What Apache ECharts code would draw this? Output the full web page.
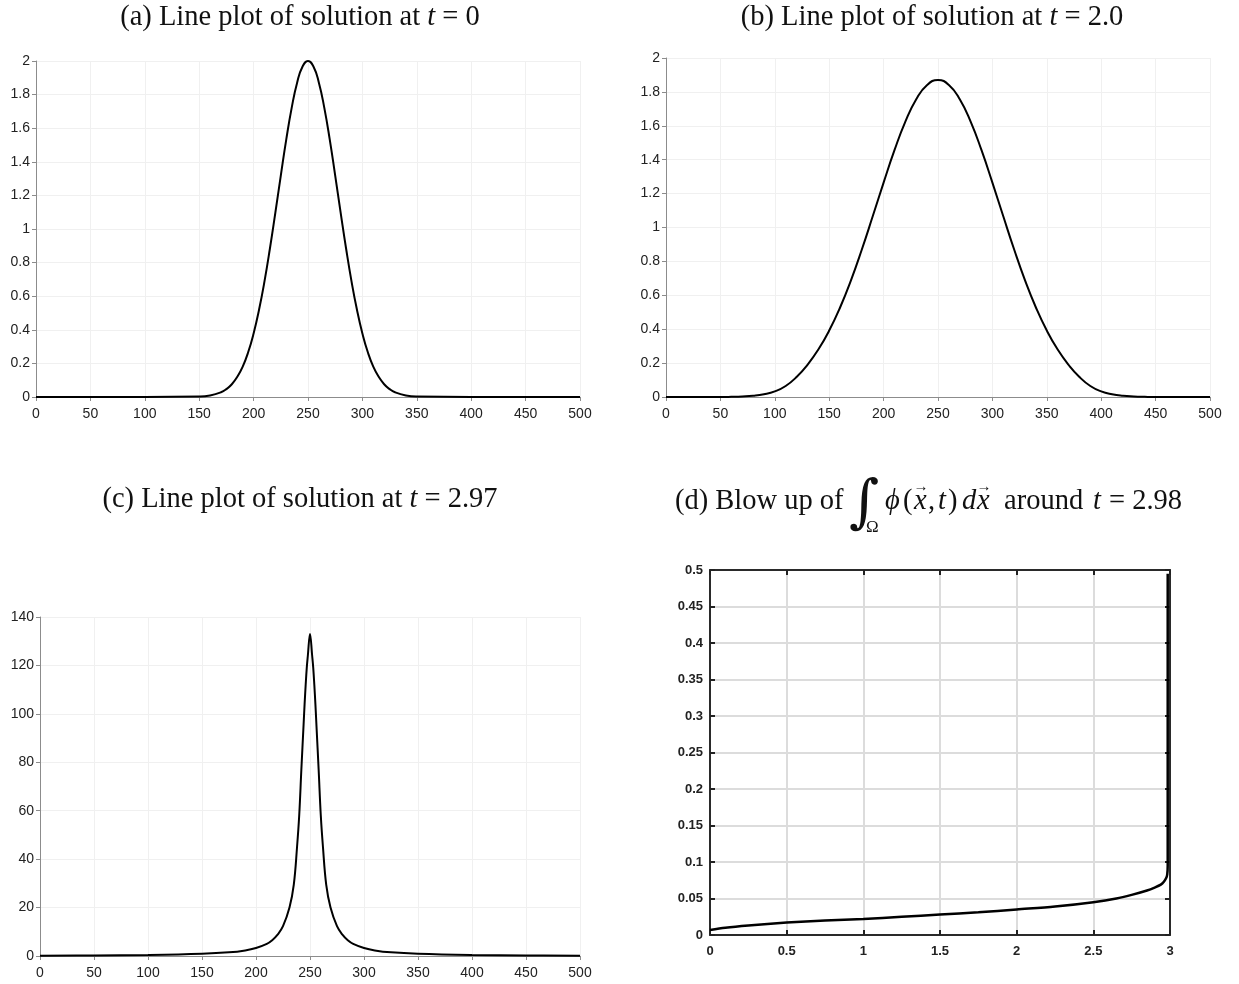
<!DOCTYPE html>
<html><head><meta charset="utf-8">
<script src="https://cdn.jsdelivr.net/npm/echarts@6/dist/echarts.min.js"></script>
<style>html,body{margin:0;padding:0;background:#fff}#c{width:1239px;height:984px}</style>
</head><body><div id="c"></div>
<script>
// (a) t = 0
const aX = [0,100,150,160,170,175,180,185,190,195,200,205,210,215,220,225,230,235,240,245,250,255,260,265,270,275,280,285,290,295,300,305,310,315,320,325,330,340,350,400,500];
const aY = [0,0,0.0025,0.009,0.028,0.047,0.076,0.120,0.181,0.266,0.378,0.519,0.688,0.884,1.098,1.318,1.532,1.721,1.871,1.967,2.0,1.967,1.871,1.721,1.532,1.318,1.098,0.884,0.688,0.519,0.378,0.266,0.181,0.120,0.076,0.047,0.028,0.009,0.0025,0,0];
// (b) t = 2.0
const bX = [0,50,60,70,80,90,100,110,120,130,140,150,160,170,180,190,200,210,220,230,240,250,260,270,280,290,300,310,320,330,340,350,360,370,380,390,400,410,420,430,440,450,500];
const bY = [0,0,0.001,0.003,0.007,0.016,0.033,0.065,0.118,0.19,0.28,0.392,0.528,0.688,0.870,1.066,1.265,1.456,1.625,1.757,1.841,1.87,1.841,1.757,1.625,1.456,1.265,1.066,0.870,0.688,0.528,0.392,0.28,0.19,0.118,0.065,0.033,0.016,0.007,0.003,0.001,0,0];
// (c) t = 2.97
const cX = [0,50,100,150,175,190,200,210,215,220,225,231,235,238,240,242,244,245,246,247,248,250,252,253,254,255,256,258,260,262,265,269,275,280,285,290,300,310,325,350,400,450,500];
const cY = [0.1,0.2,0.4,0.9,1.5,2.3,3.3,5,6.5,8.8,12.3,20,29.5,45,58,77,95,104,112,119,124,133,124,119,112,104,95,77,58,45,29.5,20,12.3,8.8,6.5,5,3.3,2.3,1.5,0.9,0.4,0.2,0.1];
// (d) integral vs t
const dX = [0,0.1,0.25,0.5,0.75,1,1.25,1.5,1.75,2,2.25,2.5,2.65,2.75,2.85,2.9,2.94,2.96,2.975,2.982,2.985,2.985];
const dY = [0.007,0.010,0.013,0.017,0.020,0.022,0.025,0.028,0.031,0.035,0.039,0.045,0.050,0.055,0.061,0.065,0.069,0.073,0.078,0.083,0.095,0.495];

const pairs = (xs, ys) => xs.map((x, i) => [x, ys[i]]);
const SANS = 'Liberation Sans', SERIF = 'Liberation Serif';
const TFS = 28.5;

function lightX(grid, max, interval) {
  return {gridIndex: grid, type: 'value', min: 0, max: max, interval: interval,
    axisLine: {show: true, onZero: false, lineStyle: {color: '#8c8c8c', width: 1}},
    axisTick: {show: true, length: 4, lineStyle: {color: '#8c8c8c'}},
    axisLabel: {color: '#222', fontSize: 14, fontFamily: SANS, margin: 10},
    splitLine: {show: true, lineStyle: {color: '#f0f0f0', width: 1}}};
}
function lightY(grid, max, interval) {
  return {gridIndex: grid, type: 'value', min: 0, max: max, interval: interval,
    axisLine: {show: true, onZero: false, lineStyle: {color: '#8c8c8c', width: 1}},
    axisTick: {show: true, length: 4, lineStyle: {color: '#8c8c8c'}},
    axisLabel: {color: '#222', fontSize: 14, fontFamily: SANS, margin: 6},
    splitLine: {show: true, lineStyle: {color: '#f0f0f0', width: 1}}};
}
const frameLine = {show: true, onZero: false, lineStyle: {color: '#2a2a2a', width: 2}};
const frameTick = {show: true, inside: true, length: 5, lineStyle: {color: '#222', width: 2}};
const boldLabel = {color: '#222', fontSize: 13, fontWeight: 'bold', fontFamily: SANS};

const rich = {
  r: {fontFamily: SERIF, fontSize: TFS, color: '#111'},
  i: {fontFamily: SERIF, fontSize: TFS, fontStyle: 'italic', color: '#111'}
};
function mkTitle(text, cx, top) {
  return {text: text, left: cx, top: top, textAlign: 'center', padding: 0,
    textStyle: {rich: rich, fontFamily: SERIF, fontSize: TFS, fontWeight: 'normal'}};
}
function t(text, x, y, opt) {
  return Object.assign({type: 'text', x: x, y: y, style: Object.assign({text: text, fill: '#111',
    fontFamily: SERIF, fontSize: TFS, verticalAlign: 'middle', textAlign: 'left'}, opt || {})});
}

const chart = echarts.init(document.getElementById('c'), null, {renderer: 'canvas'});
chart.setOption({
  backgroundColor: '#fff',
  animation: false,
  title: [
    mkTitle('{r|(a) Line plot of solution at }{i|t}{r| = 0}', 300, 3),
    mkTitle('{r|(b) Line plot of solution at }{i|t}{r| = 2.0}', 932, 3),
    mkTitle('{r|(c) Line plot of solution at }{i|t}{r| = 2.97}', 300, 485)
  ],
  graphic: [
    t('(d) Blow up of', 675, 502),
    t('\u222B', 849, 506, {fontSize: 58, fontFamily: 'DejaVu Serif', fontStyle: 'italic'}),
    t('\u03A9', 866, 528, {fontSize: 17}),
    t('\u03D5', 885, 502, {fontStyle: 'italic'}),
    t('(', 903, 502),
    t('x', 914, 502, {fontStyle: 'italic'}),
    t('\u2192', 921, 487, {fontSize: 15, textAlign: 'center'}),
    t(',', 928, 502),
    t('t', 938, 502, {fontStyle: 'italic'}),
    t(')', 948, 502),
    t('d', 962, 502, {fontStyle: 'italic'}),
    t('x', 977, 502, {fontStyle: 'italic'}),
    t('\u2192', 984, 487, {fontSize: 15, textAlign: 'center'}),
    t('around', 1004, 502),
    t('t', 1093, 502, {fontStyle: 'italic'}),
    t('= 2.98', 1109, 502)
  ],
  grid: [
    {left: 36, top: 61, width: 544, height: 336},
    {left: 666, top: 58, width: 544, height: 339},
    {left: 40, top: 617, width: 540, height: 339},
    {left: 710, top: 570, width: 460, height: 365}
  ],
  xAxis: [
    lightX(0, 500, 50),
    lightX(1, 500, 50),
    lightX(2, 500, 50),
    {gridIndex: 3, type: 'value', min: 0, max: 3, interval: 0.5, position: 'bottom',
      axisLine: frameLine, axisTick: frameTick, axisLabel: Object.assign({margin: 10}, boldLabel),
      splitLine: {show: true, lineStyle: {color: '#dcdcdc', width: 2}}},
    {gridIndex: 3, type: 'value', min: 0, max: 3, interval: 0.5, position: 'top',
      axisLine: frameLine, axisTick: frameTick, axisLabel: {show: false}, splitLine: {show: false}}
  ],
  yAxis: [
    lightY(0, 2, 0.2),
    lightY(1, 2, 0.2),
    lightY(2, 140, 20),
    {gridIndex: 3, type: 'value', min: 0, max: 0.5, interval: 0.05, position: 'left',
      axisLine: frameLine, axisTick: frameTick, axisLabel: Object.assign({margin: 7}, boldLabel),
      splitLine: {show: true, lineStyle: {color: '#dcdcdc', width: 2}}},
    {gridIndex: 3, type: 'value', min: 0, max: 0.5, interval: 0.05, position: 'right',
      axisLine: frameLine, axisTick: frameTick, axisLabel: {show: false}, splitLine: {show: false}}
  ],
  series: [
    {type: 'line', xAxisIndex: 0, yAxisIndex: 0, data: pairs(aX, aY), showSymbol: false,
      smooth: 0.5, lineStyle: {color: '#000', width: 2}},
    {type: 'line', xAxisIndex: 1, yAxisIndex: 1, data: pairs(bX, bY), showSymbol: false,
      smooth: 0.5, lineStyle: {color: '#000', width: 2}},
    {type: 'line', xAxisIndex: 2, yAxisIndex: 2, data: pairs(cX, cY), showSymbol: false,
      smooth: 0.4, lineStyle: {color: '#000', width: 2}},
    {type: 'line', xAxisIndex: 3, yAxisIndex: 3, data: pairs(dX, dY), showSymbol: false,
      smooth: 0.3, lineStyle: {color: '#000', width: 2.5}}
  ]
});
</script></body></html>
